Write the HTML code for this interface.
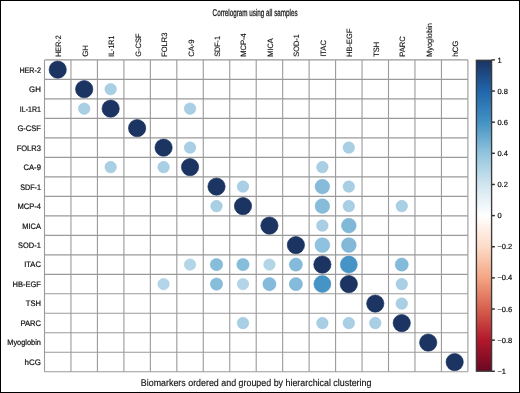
<!DOCTYPE html>
<html><head><meta charset="utf-8"><style>
html,body{margin:0;padding:0;background:#fff;}
body{width:520px;height:393px;overflow:hidden;position:relative;}
svg{position:absolute;left:0;top:0;filter:blur(0.3px);}
text{filter:grayscale(1);text-rendering:geometricPrecision;}
.lab{font-family:"Liberation Sans",sans-serif;font-size:8.0px;fill:#111;stroke:#111;stroke-width:0.22px;}
.clab{font-size:7.8px;stroke-width:0.12px;}
.cbl{font-family:"Liberation Sans",sans-serif;font-size:7.5px;fill:#111;stroke:#111;stroke-width:0.2px;}
.title{font-family:"Liberation Sans",sans-serif;font-size:9.8px;fill:#1a1a1a;stroke:#1a1a1a;stroke-width:0.3px;}
.cap{font-family:"Liberation Sans",sans-serif;font-size:9.8px;fill:#111;stroke:#111;stroke-width:0.15px;}
#frame{position:absolute;left:0;top:0;width:518px;height:391px;border:1px solid #000;}
</style></head><body>
<svg width="520" height="393" viewBox="0 0 520 393">
<g stroke="#9a9a9a" stroke-width="1.1"><line x1="44.50" y1="59.90" x2="44.50" y2="371.80"/><line x1="70.96" y1="59.90" x2="70.96" y2="371.80"/><line x1="97.42" y1="59.90" x2="97.42" y2="371.80"/><line x1="123.89" y1="59.90" x2="123.89" y2="371.80"/><line x1="150.35" y1="59.90" x2="150.35" y2="371.80"/><line x1="176.81" y1="59.90" x2="176.81" y2="371.80"/><line x1="203.27" y1="59.90" x2="203.27" y2="371.80"/><line x1="229.74" y1="59.90" x2="229.74" y2="371.80"/><line x1="256.20" y1="59.90" x2="256.20" y2="371.80"/><line x1="282.66" y1="59.90" x2="282.66" y2="371.80"/><line x1="309.12" y1="59.90" x2="309.12" y2="371.80"/><line x1="335.59" y1="59.90" x2="335.59" y2="371.80"/><line x1="362.05" y1="59.90" x2="362.05" y2="371.80"/><line x1="388.51" y1="59.90" x2="388.51" y2="371.80"/><line x1="414.97" y1="59.90" x2="414.97" y2="371.80"/><line x1="441.44" y1="59.90" x2="441.44" y2="371.80"/><line x1="467.90" y1="59.90" x2="467.90" y2="371.80"/><line x1="44.50" y1="59.90" x2="467.90" y2="59.90"/><line x1="44.50" y1="79.39" x2="467.90" y2="79.39"/><line x1="44.50" y1="98.89" x2="467.90" y2="98.89"/><line x1="44.50" y1="118.38" x2="467.90" y2="118.38"/><line x1="44.50" y1="137.88" x2="467.90" y2="137.88"/><line x1="44.50" y1="157.37" x2="467.90" y2="157.37"/><line x1="44.50" y1="176.86" x2="467.90" y2="176.86"/><line x1="44.50" y1="196.36" x2="467.90" y2="196.36"/><line x1="44.50" y1="215.85" x2="467.90" y2="215.85"/><line x1="44.50" y1="235.34" x2="467.90" y2="235.34"/><line x1="44.50" y1="254.84" x2="467.90" y2="254.84"/><line x1="44.50" y1="274.33" x2="467.90" y2="274.33"/><line x1="44.50" y1="293.82" x2="467.90" y2="293.82"/><line x1="44.50" y1="313.32" x2="467.90" y2="313.32"/><line x1="44.50" y1="332.81" x2="467.90" y2="332.81"/><line x1="44.50" y1="352.31" x2="467.90" y2="352.31"/><line x1="44.50" y1="371.80" x2="467.90" y2="371.80"/></g>
<g><circle cx="57.73" cy="69.65" r="8.65" fill="#1b3461" stroke="#122b5a" stroke-width="0.6"/><circle cx="84.19" cy="89.14" r="8.65" fill="#1b3461" stroke="#122b5a" stroke-width="0.6"/><circle cx="110.66" cy="89.14" r="5.75" fill="#a8cfe4" stroke="#97c0d8" stroke-width="0.5"/><circle cx="84.19" cy="108.63" r="5.75" fill="#a8cfe4" stroke="#97c0d8" stroke-width="0.5"/><circle cx="110.66" cy="108.63" r="8.65" fill="#1b3461" stroke="#122b5a" stroke-width="0.6"/><circle cx="190.04" cy="108.63" r="5.75" fill="#a8cfe4" stroke="#97c0d8" stroke-width="0.5"/><circle cx="137.12" cy="128.13" r="8.65" fill="#1b3461" stroke="#122b5a" stroke-width="0.6"/><circle cx="163.58" cy="147.62" r="8.65" fill="#1b3461" stroke="#122b5a" stroke-width="0.6"/><circle cx="190.04" cy="147.62" r="5.75" fill="#a8cfe4" stroke="#97c0d8" stroke-width="0.5"/><circle cx="348.82" cy="147.62" r="5.75" fill="#a8cfe4" stroke="#97c0d8" stroke-width="0.5"/><circle cx="110.66" cy="167.12" r="5.75" fill="#a8cfe4" stroke="#97c0d8" stroke-width="0.5"/><circle cx="163.58" cy="167.12" r="5.75" fill="#a8cfe4" stroke="#97c0d8" stroke-width="0.5"/><circle cx="190.04" cy="167.12" r="8.65" fill="#1b3461" stroke="#122b5a" stroke-width="0.6"/><circle cx="322.36" cy="167.12" r="5.75" fill="#a8cfe4" stroke="#97c0d8" stroke-width="0.5"/><circle cx="216.51" cy="186.61" r="8.65" fill="#1b3461" stroke="#122b5a" stroke-width="0.6"/><circle cx="242.97" cy="186.61" r="5.75" fill="#a8cfe4" stroke="#97c0d8" stroke-width="0.5"/><circle cx="322.36" cy="186.61" r="7.30" fill="#86bcda" stroke="#78aecf" stroke-width="0.5"/><circle cx="348.82" cy="186.61" r="5.75" fill="#a8cfe4" stroke="#97c0d8" stroke-width="0.5"/><circle cx="216.51" cy="206.10" r="5.75" fill="#a8cfe4" stroke="#97c0d8" stroke-width="0.5"/><circle cx="242.97" cy="206.10" r="8.65" fill="#1b3461" stroke="#122b5a" stroke-width="0.6"/><circle cx="322.36" cy="206.10" r="7.30" fill="#86bcda" stroke="#78aecf" stroke-width="0.5"/><circle cx="348.82" cy="206.10" r="5.75" fill="#a8cfe4" stroke="#97c0d8" stroke-width="0.5"/><circle cx="401.74" cy="206.10" r="5.75" fill="#a8cfe4" stroke="#97c0d8" stroke-width="0.5"/><circle cx="269.43" cy="225.60" r="8.65" fill="#1b3461" stroke="#122b5a" stroke-width="0.6"/><circle cx="322.36" cy="225.60" r="5.75" fill="#a8cfe4" stroke="#97c0d8" stroke-width="0.5"/><circle cx="348.82" cy="225.60" r="7.35" fill="#80b8d8" stroke="#73abcd" stroke-width="0.5"/><circle cx="295.89" cy="245.09" r="8.65" fill="#1b3461" stroke="#122b5a" stroke-width="0.6"/><circle cx="322.36" cy="245.09" r="7.40" fill="#8fc2de" stroke="#80b4d2" stroke-width="0.5"/><circle cx="348.82" cy="245.09" r="7.40" fill="#82b9d8" stroke="#75accd" stroke-width="0.5"/><circle cx="190.04" cy="264.58" r="5.70" fill="#b2d5e8" stroke="#a0c6dc" stroke-width="0.5"/><circle cx="216.51" cy="264.58" r="6.15" fill="#86bddb" stroke="#78afd0" stroke-width="0.5"/><circle cx="242.97" cy="264.58" r="6.15" fill="#86bddb" stroke="#78afd0" stroke-width="0.5"/><circle cx="269.43" cy="264.58" r="5.70" fill="#b2d5e8" stroke="#a0c6dc" stroke-width="0.5"/><circle cx="295.89" cy="264.58" r="6.55" fill="#84bbda" stroke="#76adcf" stroke-width="0.5"/><circle cx="322.36" cy="264.58" r="8.65" fill="#1b3461" stroke="#122b5a" stroke-width="0.6"/><circle cx="348.82" cy="264.58" r="8.50" fill="#4694c6" stroke="#3f89bc" stroke-width="0.5"/><circle cx="401.74" cy="264.58" r="6.55" fill="#84bbda" stroke="#76adcf" stroke-width="0.5"/><circle cx="163.58" cy="284.08" r="5.70" fill="#b2d5e8" stroke="#a0c6dc" stroke-width="0.5"/><circle cx="216.51" cy="284.08" r="6.15" fill="#86bddb" stroke="#78afd0" stroke-width="0.5"/><circle cx="242.97" cy="284.08" r="5.70" fill="#b2d5e8" stroke="#a0c6dc" stroke-width="0.5"/><circle cx="269.43" cy="284.08" r="6.55" fill="#84bbda" stroke="#76adcf" stroke-width="0.5"/><circle cx="295.89" cy="284.08" r="6.55" fill="#84bbda" stroke="#76adcf" stroke-width="0.5"/><circle cx="322.36" cy="284.08" r="8.50" fill="#4694c6" stroke="#3f89bc" stroke-width="0.5"/><circle cx="348.82" cy="284.08" r="8.65" fill="#1b3461" stroke="#122b5a" stroke-width="0.6"/><circle cx="401.74" cy="284.08" r="5.75" fill="#a8cfe4" stroke="#97c0d8" stroke-width="0.5"/><circle cx="375.28" cy="303.57" r="8.65" fill="#1b3461" stroke="#122b5a" stroke-width="0.6"/><circle cx="401.74" cy="303.57" r="5.75" fill="#a8cfe4" stroke="#97c0d8" stroke-width="0.5"/><circle cx="242.97" cy="323.07" r="5.75" fill="#a8cfe4" stroke="#97c0d8" stroke-width="0.5"/><circle cx="322.36" cy="323.07" r="5.75" fill="#a8cfe4" stroke="#97c0d8" stroke-width="0.5"/><circle cx="348.82" cy="323.07" r="5.75" fill="#a8cfe4" stroke="#97c0d8" stroke-width="0.5"/><circle cx="375.28" cy="323.07" r="5.75" fill="#a8cfe4" stroke="#97c0d8" stroke-width="0.5"/><circle cx="401.74" cy="323.07" r="8.65" fill="#1b3461" stroke="#122b5a" stroke-width="0.6"/><circle cx="428.21" cy="342.56" r="8.65" fill="#1b3461" stroke="#122b5a" stroke-width="0.6"/><circle cx="454.67" cy="362.05" r="8.65" fill="#1b3461" stroke="#122b5a" stroke-width="0.6"/></g>
<g class="lab"><text x="40.9" y="72.55" text-anchor="end" textLength="21.5" lengthAdjust="spacingAndGlyphs">HER-2</text><text x="40.9" y="92.04" text-anchor="end" textLength="11.8" lengthAdjust="spacingAndGlyphs">GH</text><text x="40.9" y="111.53" text-anchor="end" textLength="21.1" lengthAdjust="spacingAndGlyphs">IL-1R1</text><text x="40.9" y="131.03" text-anchor="end" textLength="23.5" lengthAdjust="spacingAndGlyphs">G-CSF</text><text x="40.9" y="150.52" text-anchor="end" textLength="24.2" lengthAdjust="spacingAndGlyphs">FOLR3</text><text x="40.9" y="170.02" text-anchor="end" textLength="17.4" lengthAdjust="spacingAndGlyphs">CA-9</text><text x="40.9" y="189.51" text-anchor="end" textLength="20.7" lengthAdjust="spacingAndGlyphs">SDF-1</text><text x="40.9" y="209.00" text-anchor="end" textLength="23.5" lengthAdjust="spacingAndGlyphs">MCP-4</text><text x="40.9" y="228.50" text-anchor="end" textLength="18.6" lengthAdjust="spacingAndGlyphs">MICA</text><text x="40.9" y="247.99" text-anchor="end" textLength="22.8" lengthAdjust="spacingAndGlyphs">SOD-1</text><text x="40.9" y="267.48" text-anchor="end" textLength="16.7" lengthAdjust="spacingAndGlyphs">ITAC</text><text x="40.9" y="286.98" text-anchor="end" textLength="28.3" lengthAdjust="spacingAndGlyphs">HB-EGF</text><text x="40.9" y="306.47" text-anchor="end" textLength="15.1" lengthAdjust="spacingAndGlyphs">TSH</text><text x="40.9" y="325.97" text-anchor="end" textLength="20.5" lengthAdjust="spacingAndGlyphs">PARC</text><text x="40.9" y="345.46" text-anchor="end" textLength="33.6" lengthAdjust="spacingAndGlyphs">Myoglobin</text><text x="40.9" y="364.95" text-anchor="end" textLength="16.3" lengthAdjust="spacingAndGlyphs">hCG</text></g>
<g class="lab clab"><text transform="translate(61.23,56.8) rotate(-90)" textLength="21.5" lengthAdjust="spacingAndGlyphs">HER-2</text><text transform="translate(87.69,56.8) rotate(-90)" textLength="11.8" lengthAdjust="spacingAndGlyphs">GH</text><text transform="translate(114.16,56.8) rotate(-90)" textLength="21.1" lengthAdjust="spacingAndGlyphs">IL-1R1</text><text transform="translate(140.62,56.8) rotate(-90)" textLength="23.5" lengthAdjust="spacingAndGlyphs">G-CSF</text><text transform="translate(167.08,56.8) rotate(-90)" textLength="24.2" lengthAdjust="spacingAndGlyphs">FOLR3</text><text transform="translate(193.54,56.8) rotate(-90)" textLength="17.4" lengthAdjust="spacingAndGlyphs">CA-9</text><text transform="translate(220.01,56.8) rotate(-90)" textLength="20.7" lengthAdjust="spacingAndGlyphs">SDF-1</text><text transform="translate(246.47,56.8) rotate(-90)" textLength="23.5" lengthAdjust="spacingAndGlyphs">MCP-4</text><text transform="translate(272.93,56.8) rotate(-90)" textLength="18.6" lengthAdjust="spacingAndGlyphs">MICA</text><text transform="translate(299.39,56.8) rotate(-90)" textLength="22.8" lengthAdjust="spacingAndGlyphs">SOD-1</text><text transform="translate(325.86,56.8) rotate(-90)" textLength="16.7" lengthAdjust="spacingAndGlyphs">ITAC</text><text transform="translate(352.32,56.8) rotate(-90)" textLength="28.3" lengthAdjust="spacingAndGlyphs">HB-EGF</text><text transform="translate(378.78,56.8) rotate(-90)" textLength="15.1" lengthAdjust="spacingAndGlyphs">TSH</text><text transform="translate(405.24,56.8) rotate(-90)" textLength="20.5" lengthAdjust="spacingAndGlyphs">PARC</text><text transform="translate(431.71,56.8) rotate(-90)" textLength="33.6" lengthAdjust="spacingAndGlyphs">Myoglobin</text><text transform="translate(458.17,56.8) rotate(-90)" textLength="16.3" lengthAdjust="spacingAndGlyphs">hCG</text></g>
<defs><linearGradient id="cb" x1="0" y1="0" x2="0" y2="1"><stop offset="0.000" stop-color="#1b3461"/><stop offset="0.100" stop-color="#2166AC"/><stop offset="0.200" stop-color="#4393C3"/><stop offset="0.300" stop-color="#92C5DE"/><stop offset="0.400" stop-color="#D1E5F0"/><stop offset="0.500" stop-color="#FFFFFF"/><stop offset="0.600" stop-color="#FDDBC7"/><stop offset="0.700" stop-color="#F4A582"/><stop offset="0.800" stop-color="#D6604D"/><stop offset="0.900" stop-color="#B2182B"/><stop offset="1.000" stop-color="#6a0822"/></linearGradient></defs>
<rect x="476.4" y="60.3" width="15.20" height="310.90" fill="url(#cb)" stroke="#3a3a3a" stroke-width="1.35"/>
<g stroke="#333" stroke-width="1.45"><line x1="491.60" y1="59.90" x2="494.90" y2="59.90"/><line x1="491.60" y1="91.04" x2="494.90" y2="91.04"/><line x1="491.60" y1="122.18" x2="494.90" y2="122.18"/><line x1="491.60" y1="153.32" x2="494.90" y2="153.32"/><line x1="491.60" y1="184.46" x2="494.90" y2="184.46"/><line x1="491.60" y1="215.60" x2="494.90" y2="215.60"/><line x1="491.60" y1="246.74" x2="494.90" y2="246.74"/><line x1="491.60" y1="277.88" x2="494.90" y2="277.88"/><line x1="491.60" y1="309.02" x2="494.90" y2="309.02"/><line x1="491.60" y1="340.16" x2="494.90" y2="340.16"/><line x1="491.60" y1="371.30" x2="494.90" y2="371.30"/></g>
<g class="cbl"><text x="497.4" y="62.50">1</text><text x="497.4" y="93.64">0.8</text><text x="497.4" y="124.78">0.6</text><text x="497.4" y="155.92">0.4</text><text x="497.4" y="187.06">0.2</text><text x="497.4" y="218.20">0</text><text x="497.4" y="249.34">−0.2</text><text x="497.4" y="280.48">−0.4</text><text x="497.4" y="311.62">−0.6</text><text x="497.4" y="342.76">−0.8</text><text x="497.4" y="373.90">−1</text></g>
<text class="title" x="212.6" y="15.6" textLength="85" lengthAdjust="spacingAndGlyphs">Correlogram using all samples</text>
<text class="cap" x="140.8" y="386.3" textLength="230.6" lengthAdjust="spacingAndGlyphs">Biomarkers ordered and grouped by hierarchical clustering</text>
</svg>
<div id="frame"></div>
</body></html>
